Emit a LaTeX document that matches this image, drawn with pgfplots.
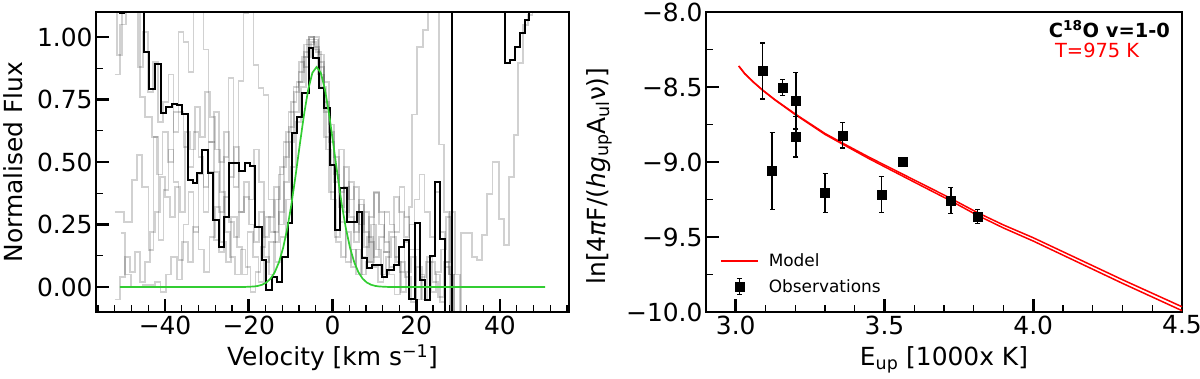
\documentclass[border=0pt]{standalone}
\usepackage{pgfplots}
\pgfplotsset{compat=1.18}
\usepackage{fontspec}
\setmainfont{DejaVu Sans}
\definecolor{mpgreen}{RGB}{50,205,50}
\begin{document}
\begin{tikzpicture}
\path[use as bounding box] (0,0) rectangle (1200bp,379bp);
\pgfplotsset{
 mystyle/.style={scale only axis, height=300bp,
   axis line style={line width=1.3bp},
   tick align=inside, xtick pos=bottom, ytick pos=left,
   major tick length=13bp, minor tick length=7bp,
   major tick style={line width=2.6bp,black},
   minor tick style={line width=1.3bp,black},
   tick label style={font=\fontsize{25}{30}\selectfont},
   label style={font=\fontsize{25}{30}\selectfont}},
 gr/.style={const plot, black, opacity=0.18, line width=1.8bp}
}
\begin{axis}[mystyle, at={(96bp,67bp)}, anchor=south west, width=473bp,
  xmin=-56.5, xmax=56.5, ymin=-0.1, ymax=1.1,
  xtick={-40,-20,0,20,40}, xticklabels={−40,−20,0,20,40},
  minor xtick={-56,-52,...,56},
  ytick={0,0.25,0.5,0.75,1}, yticklabels={0.00,0.25,0.50,0.75,1.00},
  minor ytick={0.125,0.375,0.625,0.875},
  xlabel={Velocity [km s\textsuperscript{−1}]},
  ylabel={Normalised Flux},
  xlabel style={at={(axis description cs:0.5,-0.18)}, anchor=base},
  ylabel style={at={(axis description cs:-0.1755,0.5)}, anchor=center}]
% gray spectra
\addplot[gr] coordinates {(-56.5,1.3) (-51.5,0.928) (-50.2,1.3) (-45.95,0.761) (-44.76,0.681) (-43.17,0.60) (-41.9,0.45) (-40.6,0.62) (-39.3,0.50) (-38.0,0.70) (-36.79,1.021) (-35.6,0.981) (-34.4,0.861) (-33.2,1.3) (-30.8,0.95) (-29.6,0.581) (-28.4,0.46) (-27.1,0.30) (-25.9,0.52) (-24.85,0.835) (-23.65,0.40) (-22.46,0.824) (-21.26,1.095) (-20.07,1.3) (-18.87,0.888) (-17.68,0.795) (-16.48,0.768) (-15.3,0.35) (-14.1,0.22) (-12.9,0.45) (-11.7,0.58) (-10.5,0.70) (-9.3,0.80) (-8.1,0.86) (-6.9,0.97) (-5.7,1.00) (-4.5,0.96) (-3.3,0.88) (-2.1,0.70) (-0.9,0.62) (0.3,0.45) (1.5,0.32) (2.7,0.40) (3.9,0.28) (5.1,0.18) (6.3,0.33) (7.5,0.22) (8.7,0.10) (9.9,0.38) (11.1,0.25) (12.3,0.14) (13.5,0.22) (14.7,0.36) (15.9,0.30) (17.1,0.20) (18.3,0.32) (19.0,0.69) (20.2,0.961) (21.7,1.028) (22.9,1.3) (25.4,0.57) (26.6,0.30) (27.9,0.05) (29.0,-0.2) (30.0,-0.2)};
\addplot[gr] coordinates {(-50.57,0.215) (-49.5,0.05) (-48.2,0.00) (-45.2,0.008) (-42.4,0.021) (-41.1,-0.02) (-39.8,0.05) (-38.5,0.12) (-37.2,0.03) (-35.9,0.18) (-34.6,0.10) (-33.3,0.24) (-32.0,0.15) (-30.7,0.06) (-29.4,0.20) (-28.1,0.32) (-26.8,0.18) (-25.5,0.10) (-24.2,0.28) (-22.9,0.16) (-21.6,0.05) (-20.3,0.22) (-19.0,0.12) (-17.7,0.02) (-16.4,0.10) (-15.1,0.18) (-13.8,0.35) (-12.5,0.48) (-11.2,0.62) (-9.9,0.74) (-8.6,0.82) (-7.3,0.92) (-6.0,0.99) (-4.7,0.99) (-3.4,0.85) (-2.1,0.60) (-0.8,0.38) (0.5,0.20) (1.8,0.26) (3.1,0.10) (4.4,0.15) (5.7,0.05) (7.0,0.12) (8.3,0.20) (9.6,0.08) (10.9,0.02) (12.2,0.14) (13.5,0.05) (14.8,-0.03) (16.1,0.10) (17.4,0.04) (18.7,-0.06) (20.0,0.08) (21.3,-0.05) (22.6,0.12) (23.9,0.02) (25.2,-0.04) (26.5,0.10) (27.8,0.05) (29.1,-0.2) (30.7,0.216) (33.3,0.120) (34.5,0.107) (35.7,0.207) (36.9,0.373) (38.2,0.50) (39.7,0.273) (40.9,0.168) (42.1,0.441) (43.3,0.608) (44.4,0.895) (45.6,1.048) (46.8,1.088) (47.8,1.3) (56.5,1.3)};
\addplot[gr] coordinates {(-52.0,0.30) (-49.9,0.261) (-47.9,0.428) (-46.75,0.528) (-45.5,0.40) (-43.96,0.148) (-42.77,0.60) (-41.57,0.188) (-40.38,0.388) (-39.2,0.55) (-38.0,0.42) (-36.8,0.108) (-35.6,0.25) (-34.4,0.38) (-33.2,0.22) (-32.0,0.45) (-30.8,0.30) (-29.6,0.46) (-28.4,0.188) (-27.2,0.14) (-26.0,0.36) (-24.8,0.26) (-23.6,0.20) (-22.4,0.30) (-21.2,0.36) (-20.0,0.25) (-18.8,0.18) (-17.6,0.30) (-16.4,0.12) (-15.2,0.05) (-14.0,0.18) (-12.8,0.30) (-11.6,0.52) (-10.4,0.64) (-9.2,0.78) (-8.0,0.90) (-6.8,0.88) (-5.6,0.97) (-4.4,1.00) (-3.2,0.93) (-2.0,0.74) (-0.8,0.58) (0.4,0.42) (1.6,0.55) (2.8,0.30) (4.0,0.42) (5.2,0.22) (6.4,0.35) (7.6,0.16) (8.8,0.28) (10.0,0.375) (11.2,0.30) (12.4,0.18) (13.6,0.08) (14.8,0.22) (16.0,0.40) (17.2,0.28) (18.4,0.15) (19.6,0.35) (20.8,0.45) (22.0,0.30) (23.2,0.20) (24.4,0.38) (25.6,0.22) (26.8,0.10) (28.0,0.30) (29.2,0.05) (30.4,-0.2) (31.0,-0.2)};
\addplot[gr] coordinates {(-52.0,0.85) (-50.7,1.05) (-49.4,1.3) (-46.5,0.88) (-45.2,1.02) (-44.0,0.78) (-42.8,0.90) (-41.6,0.66) (-40.4,0.74) (-39.2,0.85) (-38.0,0.62) (-36.8,0.70) (-35.6,0.56) (-34.4,0.48) (-33.2,0.62) (-32.0,0.52) (-30.8,0.40) (-29.6,0.58) (-28.4,0.70) (-27.2,0.50) (-26.0,0.62) (-24.8,0.44) (-23.6,0.56) (-22.4,0.30) (-21.2,0.42) (-20.0,0.35) (-18.8,0.55) (-17.6,0.42) (-16.4,0.20) (-15.2,0.28) (-14.0,0.40) (-12.8,0.25) (-11.6,0.42) (-10.4,0.58) (-9.2,0.70) (-8.0,0.82) (-6.8,0.94) (-5.6,1.00) (-4.4,0.95) (-3.2,0.90) (-2.0,0.82) (-0.8,0.65) (0.4,0.52) (1.6,0.38) (2.8,0.48) (4.0,0.35) (5.2,0.40) (6.4,0.25) (7.6,0.30) (8.8,0.18) (10.0,0.12) (11.2,0.20) (12.4,0.30) (13.6,0.25) (14.8,0.12) (16.0,0.06) (17.2,0.18) (18.4,0.25) (19.6,0.15) (20.8,0.05) (22.0,-0.05) (23.2,0.10) (24.4,0.05) (25.6,-0.06) (26.8,0.08) (28.0,-0.2) (29.0,-0.2)};
\addplot[gr] coordinates {(-52.0,-0.05) (-50.8,0.04) (-49.6,0.12) (-48.4,0.06) (-47.2,0.14) (-46.0,0.02) (-44.8,0.10) (-43.6,0.22) (-42.4,0.30) (-41.2,0.44) (-40.0,0.36) (-38.8,0.28) (-37.6,0.40) (-36.4,0.30) (-35.2,0.62) (-34.0,0.55) (-32.8,0.72) (-31.6,0.60) (-30.4,0.78) (-29.2,0.68) (-28.0,0.55) (-26.8,0.38) (-25.6,0.22) (-24.4,0.12) (-23.2,0.05) (-22.0,0.15) (-20.8,0.08) (-19.6,-0.02) (-18.4,0.06) (-17.2,0.16) (-16.0,0.28) (-14.8,0.22) (-13.6,0.10) (-12.4,0.20) (-11.2,0.35) (-10.0,0.48) (-8.8,0.66) (-7.6,0.80) (-6.4,0.92) (-5.2,0.98) (-4.0,0.94) (-2.8,0.80) (-1.6,0.55) (-0.4,0.35) (0.8,0.18) (2.0,0.12) (3.2,0.22) (4.4,0.08) (5.6,0.15) (6.8,0.05) (8.0,0.10) (9.2,0.25) (10.4,0.15) (11.6,0.05) (12.8,0.12) (14.0,0.20) (15.2,0.10) (16.4,-0.02) (17.6,0.06) (18.8,0.12) (20.0,-0.05) (21.2,0.04) (22.4,0.10) (23.6,-0.02) (24.8,0.06) (26.0,0.15) (27.2,0.28) (28.4,-0.2) (29.0,-0.2)};
% black spectrum
\addplot[const plot, black, line width=2bp] coordinates {(-56.5,1.3) (-50.8,1.095) (-49.9,1.3) (-45.15,0.941) (-43.72,0.791) (-42.37,0.892) (-41.01,0.697) (-39.74,0.719) (-38.39,0.732) (-37.19,0.728) (-36.00,0.692) (-34.64,0.428) (-33.37,0.415) (-32.41,0.455) (-31.22,0.548) (-29.86,0.455) (-28.43,0.268) (-27.23,0.161) (-25.88,0.281) (-24.61,0.495) (-22.22,0.465) (-20.86,0.495) (-19.67,0.484) (-18.47,0.241) (-16.88,0.108) (-15.84,-0.012) (-14.49,0.041) (-13.30,0.021) (-12.00,0.121) (-10.75,0.255) (-9.63,0.615) (-8.52,0.681) (-7.32,0.775) (-5.73,0.955) (-4.54,0.915) (-3.34,0.795) (-2.15,0.715) (-0.55,0.488) (0.64,0.228) (1.84,0.395) (3.43,0.261) (5.82,0.301) (7.01,0.115) (8.21,0.075) (9.40,0.088) (11.79,0.041) (12.99,0.068) (14.58,0.088) (15.78,0.161) (16.97,0.188) (18.17,-0.05) (19.76,0.257) (20.96,0.028) (22.15,-0.052) (23.34,0.124) (24.54,0.421) (25.73,0.191) (26.93,-0.2) (28.5,1.3) (41.1,0.897) (42.46,0.908) (43.66,0.961) (44.85,1.015) (46.05,1.068) (47.0,1.3) (56.5,1.3)};
% gaussian fit
\addplot[mpgreen, line width=1.7bp] coordinates {(-50.8,0) (-22.8,0) (-20.8,0.0003) (-18.8,0.0020) (-17.8,0.0044) (-16.8,0.0091) (-15.8,0.0179) (-14.8,0.0334) (-13.8,0.0589) (-12.8,0.0985) (-11.8,0.156) (-10.8,0.234) (-9.8,0.332) (-8.8,0.448) (-7.8,0.571) (-6.8,0.690) (-5.8,0.790) (-4.8,0.857) (-3.8,0.880) (-2.8,0.857) (-1.8,0.790) (-0.8,0.690) (0.2,0.571) (1.2,0.448) (2.2,0.332) (3.2,0.234) (4.2,0.156) (5.2,0.0985) (6.2,0.0589) (7.2,0.0334) (8.2,0.0179) (9.2,0.0091) (10.2,0.0044) (11.2,0.0020) (13.2,0.0003) (15.2,0) (50.8,0)};
\end{axis}

\begin{axis}[mystyle, at={(706bp,67bp)}, anchor=south west, width=476bp,
  xmin=2.9, xmax=4.5, ymin=-10, ymax=-8,
  xtick={3,3.5,4,4.5}, xticklabels={3.0,3.5,4.0,4.5},
  minor xtick={3.1,3.2,3.3,3.4,3.6,3.7,3.8,3.9,4.1,4.2,4.3,4.4},
  ytick={-10,-9.5,-9,-8.5,-8}, yticklabels={−10.0,−9.5,−9.0,−8.5,−8.0},
  minor ytick={-9.75,-9.25,-8.75,-8.25},
  xlabel={E\textsubscript{up} [1000x K]},
  ylabel={ln[4\textit{π}F/(\textit{hg}\textsubscript{up}A\textsubscript{ul}ν)]},
  xlabel style={at={(axis description cs:0.5,-0.18)}, anchor=base},
  ylabel style={at={(axis description cs:-0.224,0.453)}, anchor=center},
  legend cell align=left,
  legend style={at={(axis description cs:0.029,0.04)}, anchor=south west, draw=none, fill=none,
    font=\fontsize{17}{20}\selectfont, row sep=0bp, inner sep=0pt,
    /tikz/every even column/.append style={column sep=7bp}}]
\addplot[red, line width=1.5bp, legend image code/.code={\path[draw=none] (0bp,-13bp) rectangle (46bp,13bp); \draw[red,line width=1.5bp] (0bp,0bp) -- (37bp,0bp);}] coordinates {(3.010,-8.360) (3.030,-8.410) (3.060,-8.468) (3.090,-8.520) (3.130,-8.582) (3.170,-8.638) (3.200,-8.680) (3.250,-8.745) (3.300,-8.810) (3.360,-8.875) (3.450,-8.970) (3.560,-9.080) (3.650,-9.170) (3.720,-9.240) (3.810,-9.335) (3.900,-9.420) (4.000,-9.505) (4.150,-9.645) (4.300,-9.785) (4.500,-9.965)};
\addlegendentry{Model}
\addplot[red, line width=1.5bp, forget plot] coordinates {(3.010,-8.360) (3.030,-8.411) (3.060,-8.469) (3.090,-8.521) (3.130,-8.584) (3.170,-8.641) (3.200,-8.684) (3.250,-8.750) (3.300,-8.816) (3.360,-8.882) (3.450,-8.980) (3.560,-9.093) (3.650,-9.185) (3.720,-9.256) (3.810,-9.353) (3.900,-9.440) (4.000,-9.527) (4.150,-9.668) (4.300,-9.809) (4.500,-9.991)};
\addplot[black, only marks, mark=square*, mark size=4.5bp,
  legend image code/.code={\path[draw=none] (0bp,-13bp) rectangle (46bp,13bp); \draw[black,line width=1.3bp] (18.5bp,-8bp) -- (18.5bp,8bp); \draw[black,line width=1.3bp] (16bp,8bp) -- (21bp,8bp) (16bp,-8bp) -- (21bp,-8bp); \fill[black] (14bp,-4.5bp) rectangle (23bp,4.5bp);},
  error bars/.cd, y dir=both, y explicit,
  error bar style={line width=1.3bp, black},
  error mark options={rotate=90, mark size=2.5bp, line width=1.3bp, black}]
  table[x=E, y=Y, y error=err] {
E Y err
3.090 -8.393 0.187
3.158 -8.504 0.053
3.202 -8.593 0.188
3.202 -8.833 0.134
3.122 -9.060 0.256
3.300 -9.207 0.130
3.359 -8.822 0.085
3.489 -9.216 0.120
3.561 -9.000 0.015
3.723 -9.256 0.087
3.813 -9.362 0.047
};
\addlegendentry{Observations}
\node[anchor=east, inner sep=0pt, font=\fontsize{19.5}{23}\selectfont\bfseries] at (rel axis cs:0.975,0.943) {C\textsuperscript{18}O v=1-0};
\node[anchor=west, inner sep=0pt, red, font=\fontsize{19.5}{23}\selectfont] at (rel axis cs:0.733,0.873) {T=975 K};
\end{axis}
\end{tikzpicture}
\end{document}
